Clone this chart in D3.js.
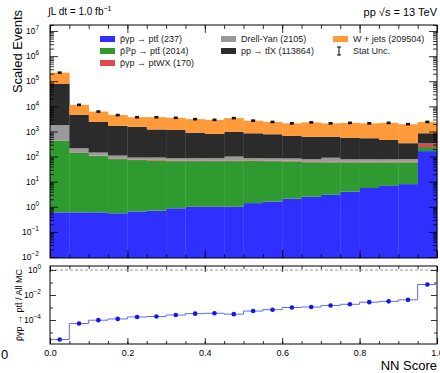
<!DOCTYPE html>
<html>
<head>
<meta charset="utf-8">
<script src="https://cdn.jsdelivr.net/npm/d3@7"></script>
<style>
  body { margin: 0; background: #fff; }
  svg { font-family: "Liberation Sans", Arial, sans-serif; }
</style>
</head>
<body>
<svg id="chart"></svg>
<script>
// per-bin yields, 20 bins of width 0.05 in NN score
var binEdges = d3.range(0, 21).map(function(i){ return i * 0.05; });
var signal = [0.6,0.6,0.6,0.55,0.65,0.7,0.87,1.0,1.0,1.0,1.4,1.6,2.1,2.5,3.0,4.0,5.6,6.8,8.0,165];
var pomeron = [419,144,104,79,72,69,65,65,65,65,65,64,62,57,56,55,53,52,51,75];
var twx = [5,4,4,4,4,4,4,4,4,4,4,4,4,4,4,4,4,4,4,80];
var drellYan = [1375,66,36,26,15,18,16,16,16,30,16,16,16,15,27,15,15,15,17,10];
var ttx = [76000,4400,2250,1590,1460,1110,1060,810,710,880,760,690,580,540,530,480,460,380,260,520];
var wjets = [142000,6900,3800,2800,2150,2500,2350,2200,2100,2420,1850,1620,1440,1680,1480,1640,1560,1740,1610,1550];

var seriesKeys = ["signal","pomeron","twx","drellYan","ttx","wjets"];
var seriesColors = ["#2f2fff","#2f9a2f","#e04a4f","#9a9a9a","#2b2b2b","#ff9a3a"];
var legendLabels = ["p̄γp → ptt̄ (237)","p̄ℙp → ptt̄ (2014)","p̄γp → ptWX (170)",
                    "Drell-Yan (2105)","pp → tt̄X (113864)","W + jets (209504)","Stat Unc."];
var mainTicks = [1e-2,1e-1,1e0,1e1,1e2,1e3,1e4,1e5,1e6,1e7];
var ratioTicks = [1e-4,1e-2,1e0];
var xTicks = [0,0.2,0.4,0.6,0.8,1.0];

var screen = { width: 440, height: 373 };
var svg = d3.select("#chart").attr("width", screen.width).attr("height", screen.height);

var frame = { left: 50, right: 437, top: 25, bottom: 258, rTop: 266, rBottom: 344 };

var xScale = d3.scaleLinear().domain([0,1]).range([frame.left, frame.right]);
var yScale = d3.scaleLog().domain([1e-2, Math.pow(10, 7.24)]).range([257, frame.top]).clamp(true);
var rScale = d3.scaleLog().domain([Math.pow(10,-5.92), Math.pow(10,0.32)]).range([frame.rBottom, frame.rTop]);

var table = signal.map(function(v, i){
  return { bin: i, signal: v, pomeron: pomeron[i], twx: twx[i], drellYan: drellYan[i], ttx: ttx[i], wjets: wjets[i] };
});
var stacked = d3.stack().keys(seriesKeys)(table);

// stacked histogram
var bars = svg.append("g");
stacked.forEach(function(layer, k){
  bars.selectAll(null)
    .data(layer)
    .enter()
    .append("rect")
    .attr("x", function(d,i){ return xScale(binEdges[i]); })
    .attr("width", function(d,i){ return xScale(binEdges[i+1]) - xScale(binEdges[i]) + 0.3; })
    .attr("y", function(d){ return yScale(d[1]); })
    .attr("height", function(d){
      var lo = d[0] <= 0 ? 1e-2 : d[0];
      return Math.max(0, Math.min(frame.bottom, yScale(lo)) - yScale(d[1]));
    })
    .attr("fill", seriesColors[k]);
});
// make the bottom layer reach the frame
bars.selectAll("rect").filter(function(d){ return d[0] === 0; })
  .attr("height", function(d){ return frame.bottom - yScale(d[1]); });

// stat unc markers
var totals = stacked[stacked.length-1].map(function(d){ return d[1]; });
var marks = svg.append("g");
totals.forEach(function(t, i){
  var cx = xScale((binEdges[i] + binEdges[i+1]) / 2);
  var err = Math.sqrt(t) * 0.4;
  marks.append("line").attr("x1", cx).attr("x2", cx)
    .attr("y1", yScale(t + err)).attr("y2", yScale(t - err))
    .attr("stroke", "#000").attr("stroke-width", 1);
  marks.append("rect").attr("x", cx - 2).attr("y", yScale(t) - 1.3)
    .attr("width", 4).attr("height", 2.6).attr("fill", "#111");
});

// frames
svg.append("rect").attr("x", frame.left).attr("y", frame.top)
  .attr("width", frame.right - frame.left).attr("height", frame.bottom - frame.top)
  .attr("fill", "none").attr("stroke", "#000").attr("stroke-width", 1);
svg.append("rect").attr("x", frame.left).attr("y", frame.rTop)
  .attr("width", frame.right - frame.left).attr("height", frame.rBottom - frame.rTop)
  .attr("fill", "none").attr("stroke", "#000").attr("stroke-width", 1);

// minor log ticks helper
function logMinor(lo, hi) {
  var out = [];
  for (var e = lo; e < hi; e++) {
    for (var m = 2; m <= 9; m++) out.push(m * Math.pow(10, e));
  }
  return out;
}
var mainMinor = logMinor(-2, 7).concat([2e7]);
var xMinor = d3.range(0, 21).map(function(i){ return i * 0.05; });

function supLabel(sel) {
  sel.selectAll(".tick text").each(function(d){
    var t = d3.select(this);
    var e = Math.round(Math.log10(d));
    t.text("10");
    t.append("tspan").attr("dy", -4).attr("font-size", 6.5).text(e < 0 ? "−" + (-e) : e);
  });
}

// main y axis
var yl = svg.append("g").attr("transform", "translate(" + frame.left + ",0)")
  .call(d3.axisLeft(yScale).tickValues(mainTicks).tickSize(-8).tickPadding(11).tickFormat(function(){ return ""; }));
yl.call(supLabel);
yl.selectAll("text").attr("font-size", 8.5).attr("fill", "#000");
svg.append("g").attr("transform", "translate(" + frame.left + ",0)")
  .call(d3.axisLeft(yScale).tickValues(mainMinor).tickSize(-4).tickFormat(""));
svg.append("g").attr("transform", "translate(" + frame.right + ",0)")
  .call(d3.axisRight(yScale).tickValues(mainTicks).tickSize(-8).tickFormat(""));
svg.append("g").attr("transform", "translate(" + frame.right + ",0)")
  .call(d3.axisRight(yScale).tickValues(mainMinor).tickSize(-4).tickFormat(""));

// main x ticks (bottom and top)
[[frame.bottom, d3.axisBottom],[frame.top, d3.axisTop]].forEach(function(a){
  svg.append("g").attr("transform", "translate(0," + a[0] + ")")
    .call(a[1](xScale).tickValues(xTicks).tickSize(-8).tickFormat(""));
  svg.append("g").attr("transform", "translate(0," + a[0] + ")")
    .call(a[1](xScale).tickValues(xMinor).tickSize(-4).tickFormat(""));
});

// ratio panel
var ratio = signal.map(function(v, i){ return v / totals[i]; });
svg.append("line").attr("x1", frame.left).attr("x2", frame.right)
  .attr("y1", rScale(1)).attr("y2", rScale(1))
  .attr("stroke", "#999").attr("stroke-dasharray", "3,2").attr("stroke-width", 1);

var stepPts = ratio.map(function(r, i){ return [binEdges[i], r]; });
stepPts.push([1.0, ratio[ratio.length-1]]);
svg.append("path")
  .attr("d", d3.line().curve(d3.curveStepAfter)
    .x(function(d){ return xScale(d[0]); })
    .y(function(d){ return rScale(d[1]); })(stepPts))
  .attr("fill", "none").attr("stroke", "#5a6cff").attr("stroke-width", 1);
svg.append("g").selectAll("circle")
  .data(ratio)
  .enter()
  .append("circle")
  .attr("cx", function(d,i){ return xScale((binEdges[i] + binEdges[i+1]) / 2); })
  .attr("cy", function(d){ return rScale(d); })
  .attr("r", 2.3)
  .attr("fill", "#1515e8");

var rMinor = [1e-5,1e-3,1e-1];
var rl = svg.append("g").attr("transform", "translate(" + frame.left + ",0)")
  .call(d3.axisLeft(rScale).tickValues(ratioTicks).tickSize(-6).tickPadding(9).tickFormat(function(){ return ""; }));
rl.call(supLabel);
rl.selectAll("text").attr("font-size", 8.5).attr("fill", "#000");
svg.append("g").attr("transform", "translate(" + frame.left + ",0)")
  .call(d3.axisLeft(rScale).tickValues(rMinor).tickSize(-3).tickFormat(""));
svg.append("g").attr("transform", "translate(" + frame.right + ",0)")
  .call(d3.axisRight(rScale).tickValues(ratioTicks).tickSize(-6).tickFormat(""));
svg.append("g").attr("transform", "translate(" + frame.right + ",0)")
  .call(d3.axisRight(rScale).tickValues(rMinor).tickSize(-3).tickFormat(""));

var xb = svg.append("g").attr("transform", "translate(0," + frame.rBottom + ")")
  .call(d3.axisBottom(xScale).tickValues(xTicks).tickSize(-6).tickPadding(6).tickFormat(d3.format(".1f")));
xb.selectAll("text").attr("font-size", 9).attr("fill", "#000");
svg.append("g").attr("transform", "translate(0," + frame.rBottom + ")")
  .call(d3.axisBottom(xScale).tickValues(xMinor).tickSize(-3).tickFormat(""));
svg.append("g").attr("transform", "translate(0," + frame.rTop + ")")
  .call(d3.axisTop(xScale).tickValues(xTicks).tickSize(-6).tickFormat(""));
svg.append("g").attr("transform", "translate(0," + frame.rTop + ")")
  .call(d3.axisTop(xScale).tickValues(xMinor).tickSize(-3).tickFormat(""));

svg.selectAll(".domain").remove();
svg.selectAll(".tick line").attr("stroke", "#000").attr("stroke-width", 0.8);

// legend
var legendPos = [[100,39],[100,51],[100,63],[221,39],[221,51],[333,39],[333,51]];
var legendColors = [seriesColors[0], seriesColors[1], seriesColors[2], seriesColors[3], seriesColors[4], seriesColors[5], null];
var legend = svg.append("g");
legendLabels.forEach(function(lab, i){
  var p = legendPos[i];
  if (legendColors[i]) {
    legend.append("rect").attr("x", p[0]).attr("y", p[1] - 3)
      .attr("width", 15).attr("height", 6).attr("fill", legendColors[i]);
  } else {
    var cx = p[0] + 6;
    legend.append("line").attr("x1", cx).attr("x2", cx).attr("y1", p[1]-4).attr("y2", p[1]+4).attr("stroke", "#000");
    legend.append("line").attr("x1", cx-2).attr("x2", cx+2).attr("y1", p[1]-4).attr("y2", p[1]-4).attr("stroke", "#000");
    legend.append("line").attr("x1", cx-2).attr("x2", cx+2).attr("y1", p[1]+4).attr("y2", p[1]+4).attr("stroke", "#000");
  }
  legend.append("text").attr("x", p[0] + 20).attr("y", p[1] + 3.2)
    .attr("font-size", 9).attr("fill", "#222").text(lab);
});

// labels
svg.append("text").attr("transform", "translate(22,10) rotate(-90)")
  .attr("text-anchor", "end").attr("font-size", 13).text("Scaled Events");
svg.append("text").attr("transform", "translate(22,305) rotate(-90)")
  .attr("text-anchor", "middle").attr("font-size", 9).text("p̄γp → ptt̄ / All MC");
svg.append("text").attr("x", frame.right).attr("y", 370)
  .attr("text-anchor", "end").attr("font-size", 13).text("NN Score");
svg.append("text").attr("x", 1).attr("y", 359).attr("font-size", 13).text("0");

var lumi = svg.append("text").attr("x", 48).attr("y", 15).attr("font-size", 10);
lumi.append("tspan").text("∫L dt = 1.0 fb");
lumi.append("tspan").attr("dy", -4).attr("font-size", 7).text("−1");

var energy = svg.append("text").attr("x", frame.right).attr("y", 16).attr("text-anchor", "end").attr("font-size", 11);
energy.text("pp √s = 13 TeV");
</script>
</body>
</html>
